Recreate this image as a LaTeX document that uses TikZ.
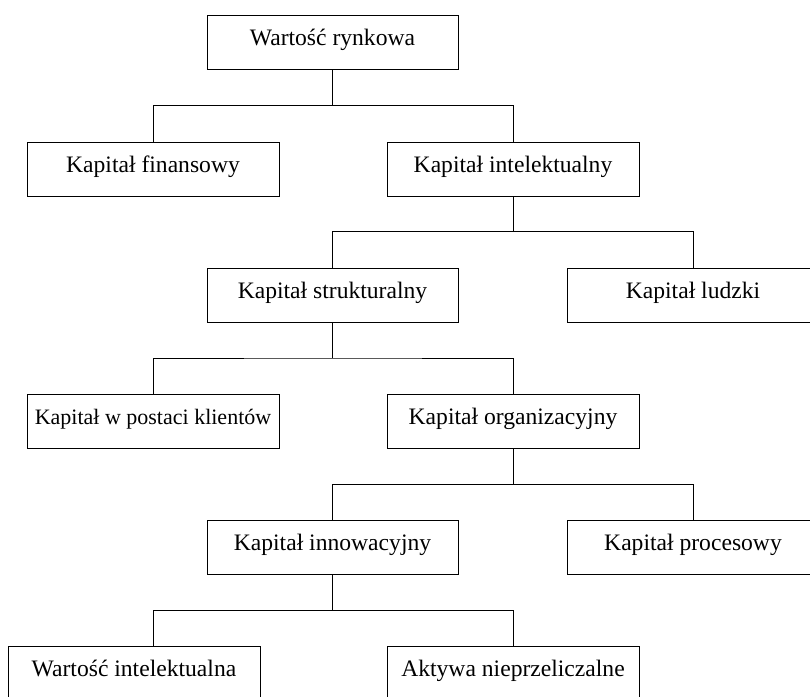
\documentclass[tikz,border=0pt]{standalone}
\usepackage{fontspec}
\setmainfont{Liberation Serif}
\begin{document}
\begin{tikzpicture}[x=1pt,y=-1pt,
  box/.style={draw, line width=1pt, minimum width=252pt, minimum height=54pt, inner sep=0pt,
    font=\fontsize{23.6}{28}\selectfont, text height=13pt, text depth=7pt},
  conn/.style={line width=1pt}]
\useasboundingbox (0,0) rectangle (810,696);
\clip (0,0) rectangle (810,696);
\fill[white] (0,0) rectangle (810,696);
\node[box, minimum width=251pt] (top) at (332.5,42) {Wartość rynkowa};
\node[box] (fin) at (153,169) {Kapitał finansowy};
\node[box] (int) at (513,169) {Kapitał intelektualny};
\node[box, minimum width=251pt] (str) at (332.5,295) {Kapitał strukturalny};
\node[box] (lud) at (693,295) {Kapitał ludzki};
\node[box, font=\fontsize{22}{26}\selectfont] (kli) at (153,421.5) {Kapitał w postaci klientów};
\node[box] (org) at (513,421.5) {Kapitał organizacyjny};
\node[box, minimum width=251pt] (inn) at (332.5,547) {Kapitał innowacyjny};
\node[box] (pro) at (693,547) {Kapitał procesowy};
\node[box] (wi) at (134,673) {Wartość intelektualna};
\node[box] (akt) at (513,673) {Aktywa nieprzeliczalne};
\coordinate (j1) at (332.5,105.5);
\coordinate (j2) at (513,231.5);
\coordinate (j3) at (332.5,358);
\coordinate (j4) at (513,484.5);
\coordinate (j5) at (332.5,610);
\coordinate (w5) at (153,646);
\draw[conn] (top.south) -- (j1);
\draw[conn] (fin.north) |- (j1) -| (int.north);
\draw[conn] (int.south) -- (j2);
\draw[conn] (str.north) |- (j2) -| (lud.north);
\draw[conn] (str.south) -- (j3);
\draw[conn] (kli.north) |- (j3) -| (org.north);
\draw[conn] (org.south) -- (j4);
\draw[conn] (inn.north) |- (j4) -| (pro.north);
\draw[conn] (inn.south) -- (j5);
\draw[conn] (w5) |- (j5) -| (akt.north);
\end{tikzpicture}
\end{document}
